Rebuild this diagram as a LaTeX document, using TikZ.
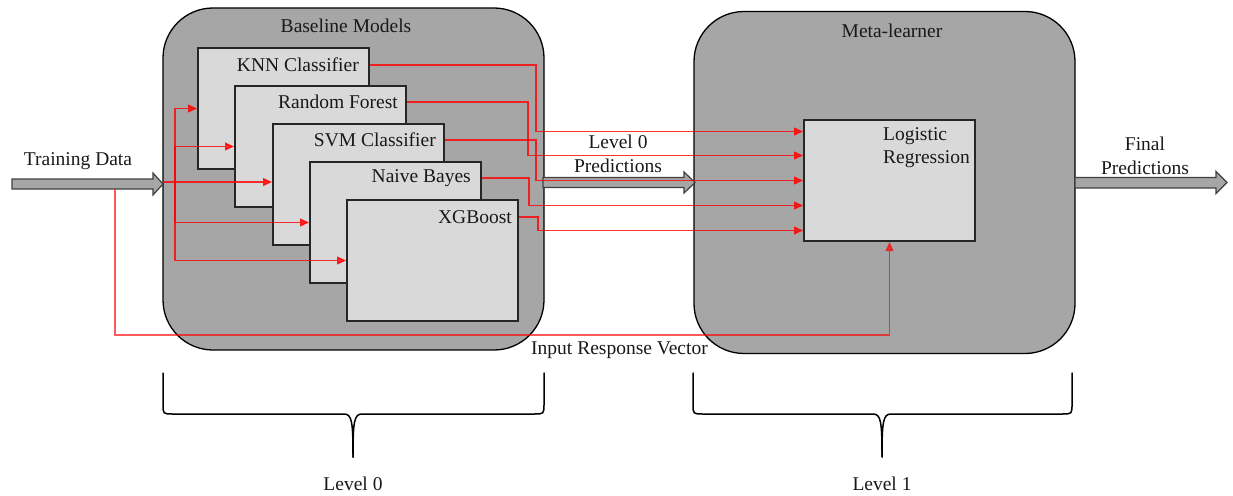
\documentclass[tikz,border=0pt]{standalone}
\usepackage{fontspec}
\setmainfont{Liberation Serif}
\usetikzlibrary{arrows.meta, positioning}

\definecolor{stagegray}{HTML}{A6A6A6}
\definecolor{modelgray}{HTML}{D9D9D9}

\tikzset{
  txt/.style={font=\fontsize{19.5}{23.4}\selectfont, inner sep=2pt, text=black!90},
  stage/.style={draw=black, line width=1.3pt, fill=stagegray, rounded corners=50pt, minimum width=381pt, minimum height=342pt},
  model/.style={draw=black!85, line width=2pt, fill=modelgray, minimum width=171pt, minimum height=121pt, inner sep=0pt},
  wire/.style={red, opacity=0.8, line width=1.3pt},
  feed/.style={wire, -{Triangle[length=9pt,width=8pt]}},
  flow/.style={draw=black!75, line width=1.2pt, fill=stagegray},
  brace/.style={line width=1.5pt, line cap=round}
}

\begin{document}
\begin{tikzpicture}[x=1pt, y=-1pt]
\useasboundingbox (0,0) rectangle (1233,495);

% the two stages
\node[stage] (base) at (353.5,179) {};
\node[stage] (meta) at (884.5,182.5) {};
\node[txt] (basetitle) at (346,26) {Baseline Models};
\node[txt] (metatitle) at (892,31) {Meta-learner};

% level 0 models, stacked
\node[model, anchor=north west] (knn) at (197,47) {};
\node[txt, anchor=east] (knnlbl) at ([xshift=-9pt,yshift=-18pt]knn.north east) {KNN Classifier};
\node[model, anchor=north west] (rf) at (234,85) {};
\node[txt, anchor=east] (rflbl) at ([xshift=-7pt,yshift=-17pt]rf.north east) {Random Forest};
\node[model, anchor=north west] (svm) at (272,123) {};
\node[txt, anchor=east] (svmlbl) at ([xshift=-7pt,yshift=-17pt]svm.north east) {SVM Classifier};
\node[model, anchor=north west] (nb) at (309,161) {};
\node[txt, anchor=east] (nblbl) at ([xshift=-9pt,yshift=-17pt]nb.north east) {Naive Bayes};
\node[model, anchor=north west] (xgb) at (346,199) {};
\node[txt, anchor=east] (xgblbl) at ([xshift=-5pt,yshift=-18pt]xgb.north east) {XGBoost};

% level 1 model
\node[model, anchor=north west] (lr) at (803,119) {};
\node[txt, align=left, anchor=north east] (lrlbl) at ([xshift=-4pt,yshift=-6pt]lr.north east) {Logistic\\Regression};

% block arrows
\draw[flow] (12,179) -- (153,179) -- (153,173) -- (163,184) -- (153,195) -- (153,189) -- (12,189) -- cycle;
\node[txt] (tdlbl) at (78,161) {Training Data};

\draw[flow] (543,177.5) -- (684,177.5) -- (684,172) -- (695,182.5) -- (684,193) -- (684,187.5) -- (543,187.5) -- cycle;
\node[txt, align=center] (predlbl) at (618,154) {Level 0\\Predictions};

\draw[flow] (1075,177.5) -- (1216,177.5) -- (1216,171.5) -- (1227,182.5) -- (1216,193.5) -- (1216,188) -- (1075,188) -- cycle;
\node[txt, align=center] (finallbl) at (1145,156) {Final\\Predictions};

% training data fed to every base model
\coordinate (tdtip) at (163,182);
\coordinate (split) at (175,182);
\draw[wire, line width=2.4pt] (tdtip) -- (split);
\draw[feed] (split) |- (knn.west);
\draw[feed] (split) |- (rf.west);
\draw[feed] (split) -- (svm.west |- split);
\draw[feed] (split) |- (nb.west);
\draw[feed] (split) |- (xgb.west);

% base predictions into the meta-learner
\draw[feed] (knn.east |- knnlbl) -- (536,0 |- knnlbl) |- ([yshift=49pt]lr.west);
\draw[feed] (rf.east |- rflbl) -- (528,0 |- rflbl) |- ([yshift=25pt]lr.west);
\draw[feed] (svm.east |- svmlbl) -- (536,0 |- svmlbl) |- (lr.west);
\draw[feed] (nb.east |- nblbl) -- (529,0 |- nblbl) |- ([yshift=-25pt]lr.west);
\draw[feed] (xgb.east |- xgblbl) -- (538,0 |- xgblbl) |- ([yshift=-50pt]lr.west);

% response vector straight to the meta-learner
\coordinate (tap) at (115,189);
\draw[feed, opacity=0.65] (tap) -- (115,335) -| (lr.south);
\node[txt] (irvlbl) at (619.5,350) {Input Response Vector};

% braces
\draw[brace] (163,373) -- (163,404) .. controls (163,414) .. (173,414) -- (344,414) .. controls (352,414) and (353,422) .. (353,457);
\draw[brace] (544,373) -- (544,404) .. controls (544,414) .. (534,414) -- (362,414) .. controls (354,414) and (353,422) .. (353,457);
\node[txt] (lvl0) at (353,484) {Level 0};

\draw[brace] (693,373) -- (693,404) .. controls (693,414) .. (703,414) -- (873,414) .. controls (881,414) and (882,422) .. (882,457);
\draw[brace] (1072,373) -- (1072,404) .. controls (1072,414) .. (1062,414) -- (891,414) .. controls (883,414) and (882,422) .. (882,457);
\node[txt] (lvl1) at (882,484) {Level 1};

\end{tikzpicture}
\end{document}
